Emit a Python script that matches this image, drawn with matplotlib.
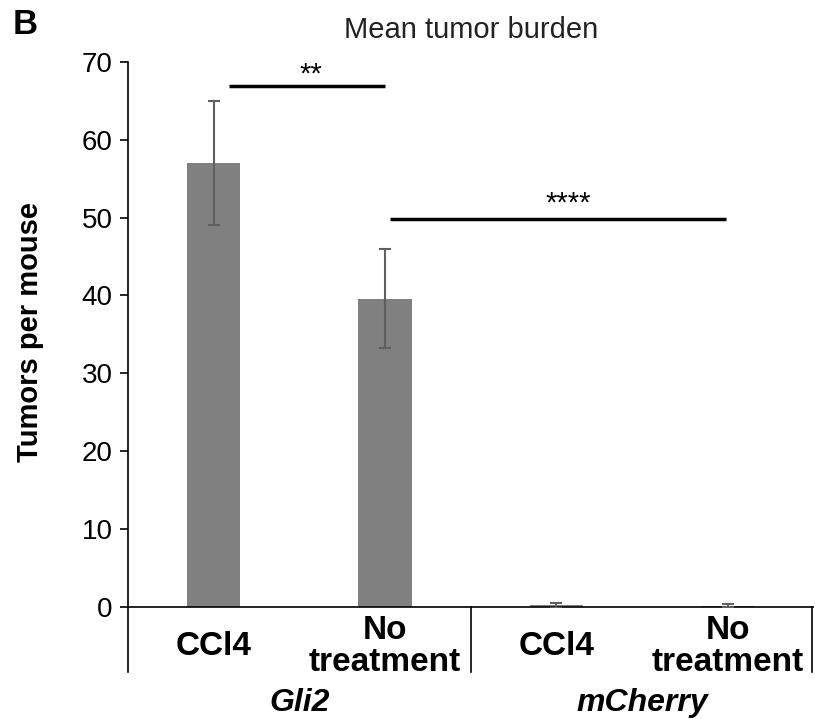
import numpy as np
import matplotlib.pyplot as plt
from matplotlib.transforms import blended_transform_factory

plt.rcParams['font.family'] = ['Liberation Sans', 'DejaVu Sans']

# Data
categories = ['CCl4', 'No\ntreatment', 'CCl4', 'No\ntreatment']
groups = ['Gli2', 'mCherry']
means = [57.0, 39.6, 0.2, 0.15]
errors = [8.0, 6.4, 0.3, 0.2]

# significance brackets: (x start, x end, y, text x, label)
sig_x0 = [0.09, 1.03]
sig_x1 = [1.0, 2.99]
sig_y = [66.9, 49.8]
sig_text_x = [0.57, 2.07]
sig_labels = ['**', '****']

fig = plt.figure(figsize=(8.15, 7.19), dpi=100)
ax = fig.add_axes([0.157, 0.156, 0.841, 0.758])

x = np.arange(len(means))
ax.bar(x, means, width=0.31, color='#808080', zorder=2)
ax.errorbar(x, means, yerr=errors, fmt='none', ecolor='#5f5f5f',
            elinewidth=1.5, capsize=4, capthick=1.5, zorder=3)

ax.set_xlim(-0.5, 3.5)
ax.set_ylim(0, 70)
ax.set_yticks(np.arange(0, 71, 10))
ax.tick_params(axis='y', labelsize=20, length=6, width=1.2, direction='out', pad=5)
ax.set_xticks([])

for s in ['top', 'right']:
    ax.spines[s].set_visible(False)
ax.spines['left'].set_linewidth(1.2)
ax.spines['bottom'].set_linewidth(1.2)

ax.set_ylabel('Tumors per mouse', fontsize=21, fontweight='bold')
ax.yaxis.set_label_coords(-0.123, 0.505)
ax.set_title('Mean tumor burden', fontsize=21, pad=17, color='#222222')

# significance lines
for x0, x1, y, tx, lab, dy in zip(sig_x0, sig_x1, sig_y, sig_text_x, sig_labels, [0.4, 1.0]):
    ax.plot([x0, x1], [y, y], color='black', lw=2.5, solid_capstyle='butt', zorder=4)
    ax.text(tx, y + dy, lab, ha='center', va='baseline', fontsize=21)

# category and group labels under the axis
trans = blended_transform_factory(ax.transData, ax.transAxes)
for xi, lab in zip(x, categories):
    ax.text(xi, -0.073, lab, transform=trans, ha='center', va='center',
            fontsize=24, fontweight='bold', linespacing=1.05)

for gi, g in enumerate(groups):
    ax.text(2 * gi + 0.5, -0.176, g, transform=trans, ha='center', va='center',
            fontsize=23, fontweight='bold', style='italic')

# group dividers
for xd in [-0.5, 1.5, 3.49]:
    ax.plot([xd, xd], [0, -0.119], transform=trans, color='black', lw=1.2,
            clip_on=False)

fig.text(0.015, 0.966, 'B', fontsize=25, fontweight='bold', ha='left', va='center')

fig.savefig('out.png', dpi=100)
